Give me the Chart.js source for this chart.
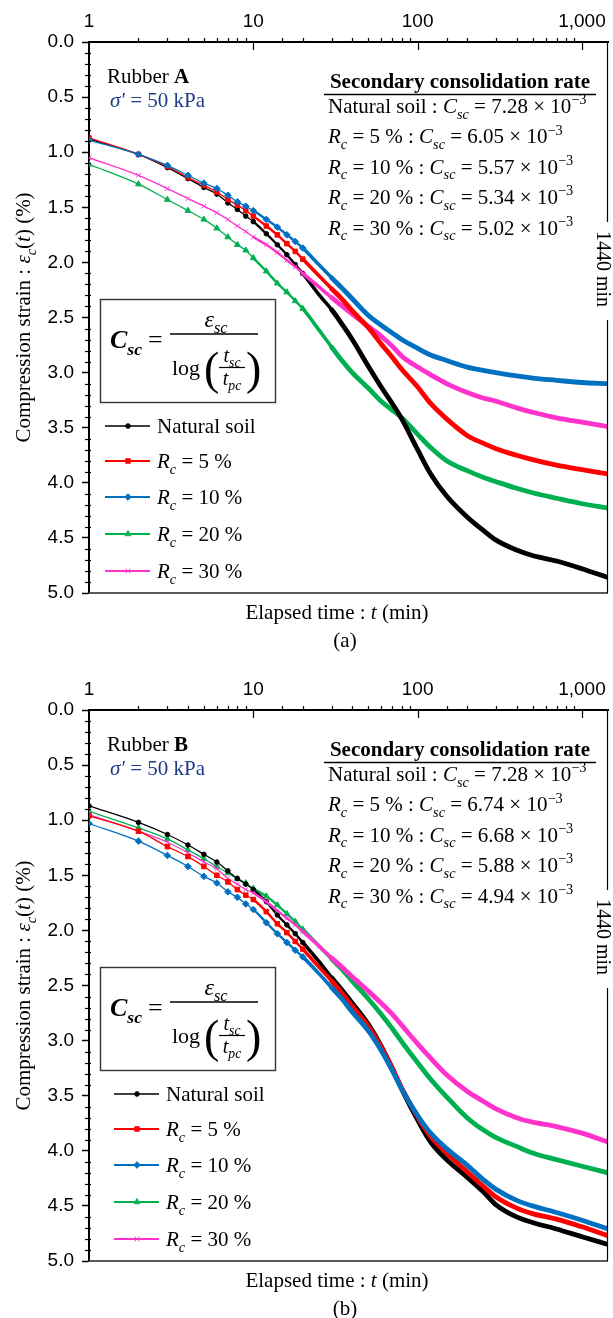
<!DOCTYPE html>
<html>
<head>
<meta charset="utf-8">
<script src="https://cdn.jsdelivr.net/npm/chart.js@4.4.1/dist/chart.umd.min.js"></script>
<style>
  body { margin: 0; background: #fff; width: 613px; height: 1318px; position: relative; overflow: hidden; }
  canvas { position: absolute; left: 0; }
</style>
</head>
<body>
<canvas id="chartA" width="613" height="659" style="top:0"></canvas>
<canvas id="chartB" width="613" height="650" style="top:668px"></canvas>
<script>
// elapsed time (min), shared by every series
const times = [1, 2, 3, 4, 5, 6, 7, 8, 9, 10, 12, 14, 16, 18, 20, 25, 30, 35, 40, 50, 60, 70, 80, 100, 120, 150, 200, 250, 300, 400, 500, 700, 1000, 1440];

// Rubber A, compression strain (%)
const natA = [0.88, 1.02, 1.14, 1.24, 1.32, 1.38, 1.46, 1.52, 1.58, 1.63, 1.74, 1.84, 1.93, 2.02, 2.10, 2.29, 2.43, 2.57, 2.70, 2.94, 3.13, 3.28, 3.42, 3.70, 3.92, 4.12, 4.31, 4.43, 4.52, 4.61, 4.66, 4.71, 4.78, 4.86];
const rc5A = [0.87, 1.02, 1.13, 1.23, 1.30, 1.36, 1.43, 1.48, 1.53, 1.58, 1.67, 1.75, 1.83, 1.90, 1.97, 2.12, 2.24, 2.34, 2.44, 2.59, 2.74, 2.86, 2.97, 3.13, 3.28, 3.42, 3.57, 3.64, 3.69, 3.75, 3.79, 3.84, 3.88, 3.92];
const rc10A = [0.89, 1.02, 1.12, 1.21, 1.28, 1.33, 1.39, 1.45, 1.49, 1.53, 1.61, 1.68, 1.75, 1.81, 1.87, 2.02, 2.14, 2.24, 2.33, 2.48, 2.57, 2.64, 2.70, 2.78, 2.84, 2.89, 2.95, 2.98, 3.00, 3.03, 3.05, 3.07, 3.09, 3.10];
const rc20A = [1.11, 1.29, 1.43, 1.53, 1.61, 1.69, 1.77, 1.84, 1.89, 1.96, 2.08, 2.19, 2.27, 2.35, 2.42, 2.61, 2.77, 2.90, 3.00, 3.14, 3.26, 3.34, 3.41, 3.56, 3.68, 3.80, 3.89, 3.95, 3.99, 4.05, 4.09, 4.14, 4.19, 4.23];
const rc30A = [1.05, 1.21, 1.33, 1.42, 1.49, 1.55, 1.61, 1.67, 1.72, 1.77, 1.84, 1.91, 1.98, 2.04, 2.10, 2.22, 2.32, 2.40, 2.47, 2.58, 2.67, 2.76, 2.85, 2.95, 3.02, 3.10, 3.18, 3.23, 3.26, 3.32, 3.36, 3.41, 3.45, 3.49];

// Rubber B, compression strain (%)
const natB = [0.87, 1.02, 1.13, 1.225, 1.31, 1.38, 1.46, 1.53, 1.58, 1.63, 1.74, 1.86, 1.95, 2.03, 2.11, 2.28, 2.43, 2.55, 2.66, 2.85, 3.05, 3.25, 3.44, 3.72, 3.92, 4.08, 4.24, 4.37, 4.49, 4.60, 4.65, 4.71, 4.78, 4.85];
const rc5B = [0.96, 1.10, 1.24, 1.33, 1.42, 1.50, 1.56, 1.63, 1.68, 1.72, 1.83, 1.94, 2.02, 2.10, 2.17, 2.33, 2.46, 2.58, 2.69, 2.87, 3.06, 3.25, 3.43, 3.69, 3.87, 4.02, 4.19, 4.32, 4.42, 4.52, 4.57, 4.62, 4.69, 4.77];
const rc10B = [1.03, 1.19, 1.32, 1.42, 1.51, 1.57, 1.65, 1.70, 1.76, 1.81, 1.93, 2.03, 2.11, 2.18, 2.24, 2.39, 2.52, 2.63, 2.74, 2.91, 3.09, 3.27, 3.44, 3.68, 3.84, 3.98, 4.13, 4.26, 4.35, 4.45, 4.50, 4.56, 4.63, 4.71];
const rc20B = [0.92, 1.07, 1.17, 1.27, 1.35, 1.42, 1.48, 1.53, 1.57, 1.62, 1.69, 1.77, 1.85, 1.92, 1.99, 2.14, 2.26, 2.36, 2.46, 2.62, 2.76, 2.89, 3.01, 3.20, 3.35, 3.51, 3.70, 3.81, 3.88, 3.96, 4.02, 4.08, 4.14, 4.20];
const rc30B = [0.95, 1.10, 1.20, 1.295, 1.38, 1.44, 1.53, 1.58, 1.63, 1.66, 1.74, 1.82, 1.89, 1.95, 2.01, 2.14, 2.25, 2.34, 2.42, 2.55, 2.66, 2.76, 2.86, 3.03, 3.16, 3.31, 3.46, 3.55, 3.62, 3.70, 3.74, 3.78, 3.84, 3.92];

// rubber content labels and secondary consolidation rates (x 10^-3)
const rcLevels = [5, 10, 20, 30];
const cscA = ['7.28', '6.05', '5.57', '5.34', '5.02'];
const cscB = ['7.28', '6.74', '6.68', '5.88', '4.94'];

const SERIF = '"Liberation Serif", "Times New Roman", serif';
const SANS = '"Liberation Sans", Arial, sans-serif';

const seriesStyle = [
  { color: '#000000', point: 'circle', r: 2.3, order: 3 },
  { color: '#FF0000', point: 'rect', r: 3.2, order: 1 },
  { color: '#0070C0', point: 'rectRot', r: 3.3, order: 0 },
  { color: '#00B050', point: 'triangle', r: 3.4, order: 4 },
  { color: '#FF33CC', point: 'crossRot', r: 3.4, order: 2 }
];

// draw a run of text pieces: [text, flags] with i=italic b=bold s=sub p=sup
function drawRich(ctx, x, y, parts, size, align) {
  let total = 0;
  const pieces = parts.map(([t, f = '']) => {
    const small = f.includes('s') || f.includes('p');
    const fs = small ? size * 0.68 : size;
    const font = (f.includes('i') ? 'italic ' : '') + (f.includes('b') ? 'bold ' : '') + fs + 'px ' + SERIF;
    ctx.font = font;
    const w = ctx.measureText(t).width;
    total += w;
    return { t, font, w, dy: f.includes('s') ? size * 0.27 : f.includes('p') ? -size * 0.42 : 0 };
  });
  let cx = align === 'center' ? x - total / 2 : align === 'right' ? x - total : x;
  ctx.textAlign = 'left';
  ctx.textBaseline = 'alphabetic';
  pieces.forEach(p => { ctx.font = p.font; ctx.fillText(p.t, cx, y + p.dy); cx += p.w; });
  return total;
}

function drawMarker(ctx, style, x, y, r, color) {
  ctx.save();
  ctx.fillStyle = color;
  ctx.strokeStyle = color;
  ctx.lineWidth = 1;
  if (Chart.helpers && Chart.helpers.drawPoint) {
    Chart.helpers.drawPoint(ctx, { pointStyle: style, radius: r, rotation: 0, borderWidth: 1 }, x, y);
  } else {
    ctx.beginPath();
    ctx.arc(x, y, r, 0, Math.PI * 2);
    ctx.fill();
  }
  ctx.restore();
}

const segWidth = x => x <= 10 ? 1.3 : x <= 20 ? 2.4 : x <= 30 ? 3.6 : 4.8;

function legendParts(i) {
  if (i === 0) return [['Natural soil']];
  return [['R', 'i'], ['c', 'is'], [' = ' + rcLevels[i - 1] + ' %']];
}

function rateParts(i, csc) {
  const head = i === 0 ? [['Natural soil : ']] : [['R', 'i'], ['c', 'is'], [' = ' + rcLevels[i - 1] + ' % : ']];
  return head.concat([['C', 'i'], ['sc', 'is'], [' = ' + csc[i] + ' \u00d7 10'], ['\u22123', 'p']]);
}

function decorPlugin(p) {
  return {
    id: 'decor',
    afterDraw(chart) {
      const ctx = chart.ctx, a = chart.chartArea, xs = chart.scales.x, ys = chart.scales.y;
      ctx.save();
      ctx.strokeStyle = '#000';
      ctx.lineWidth = 1.2;
      // log ticks on the top axis: decades point in, the rest point out
      xs.ticks.forEach(t => {
        const v = t.value;
        if (v <= 1 || v >= 1440) return;
        const px = Math.round(xs.getPixelForValue(v)) + 0.5;
        const l = Math.log10(v);
        ctx.beginPath();
        if (Math.abs(l - Math.round(l)) < 1e-9) { ctx.moveTo(px, a.top); ctx.lineTo(px, a.top + 8); }
        else { ctx.moveTo(px, a.top - 4); ctx.lineTo(px, a.top); }
        ctx.stroke();
      });
      // minor ticks on the strain axis
      for (let k = 1; k < 50; k++) {
        if (k % 5 === 0) continue;
        const py = Math.round(ys.getPixelForValue(k / 10)) + 0.5;
        ctx.beginPath(); ctx.moveTo(a.left - 4, py); ctx.lineTo(a.left + 2, py); ctx.stroke();
      }
      // bottom and right frame
      ctx.strokeStyle = '#595959';
      ctx.lineWidth = 2;
      ctx.beginPath(); ctx.moveTo(a.left, a.bottom); ctx.lineTo(a.right, a.bottom); ctx.stroke();
      ctx.strokeStyle = '#000';
      ctx.lineWidth = 1.2;
      ctx.beginPath();
      ctx.moveTo(a.right - 0.5, a.top); ctx.lineTo(a.right - 0.5, 222);
      ctx.moveTo(a.right - 0.5, 320); ctx.lineTo(a.right - 0.5, a.bottom);
      ctx.stroke();

      ctx.fillStyle = '#000';
      // 1440 min
      ctx.save();
      ctx.translate(597, 269);
      ctx.rotate(Math.PI / 2);
      drawRich(ctx, 0, 0, [['1440 min']], 20, 'center');
      ctx.restore();

      // axis titles
      ctx.save();
      ctx.translate(30, (a.top + a.bottom) / 2);
      ctx.rotate(-Math.PI / 2);
      drawRich(ctx, 0, 0, [['Compression strain : '], ['\u03b5', 'i'], ['c', 'is'], ['('], ['t', 'i'], [') (%)']], 21, 'center');
      ctx.restore();
      drawRich(ctx, 337, 619, [['Elapsed time : '], ['t', 'i'], [' (min)']], 21, 'center');
      drawRich(ctx, 345, 647, [[p.caption]], 21, 'center');

      // sample info
      drawRich(ctx, 107, 83, [['Rubber '], [p.rubber, 'b']], 21, 'left');
      ctx.fillStyle = '#1F3C88';
      drawRich(ctx, 110, 107, [['\u03c3\u2032', 'i'], [' = 50 kPa']], 21, 'left');
      ctx.fillStyle = '#000';

      // secondary consolidation rate table
      drawRich(ctx, 460, 88, [['Secondary consolidation rate', 'b']], 21, 'center');
      ctx.lineWidth = 1.3;
      ctx.beginPath(); ctx.moveTo(324, 94.5); ctx.lineTo(596, 94.5); ctx.stroke();
      for (let i = 0; i < 5; i++) drawRich(ctx, 328, 113 + i * 30.4, rateParts(i, p.csc), 21, 'left');

      // equation box
      ctx.strokeStyle = '#333';
      ctx.lineWidth = 1.4;
      ctx.strokeRect(100.5, 299.5, 175, 103);
      ctx.strokeStyle = '#000';
      drawRich(ctx, 110, 348, [['C', 'bi'], ['sc', 'bis']], 26, 'left');
      drawRich(ctx, 148, 348, [['=']], 26, 'left');
      ctx.lineWidth = 1.6;
      ctx.beginPath(); ctx.moveTo(170, 334); ctx.lineTo(258, 334); ctx.stroke();
      drawRich(ctx, 216, 327, [['\u03b5', 'i'], ['sc', 'is']], 24, 'center');
      drawRich(ctx, 172, 375, [['log']], 22, 'left');
      drawRich(ctx, 204, 384, [['(']], 46, 'left');
      drawRich(ctx, 246, 384, [[')']], 46, 'left');
      drawRich(ctx, 232, 362, [['t', 'i'], ['sc', 'is']], 20, 'center');
      ctx.lineWidth = 1.2;
      ctx.beginPath(); ctx.moveTo(219, 367.5); ctx.lineTo(245, 367.5); ctx.stroke();
      drawRich(ctx, 232, 385, [['t', 'i'], ['pc', 'is']], 20, 'center');

      // legend
      const rows = [426, 461, 497, 534, 571];
      chart.data.datasets.forEach((ds, i) => {
        const s = seriesStyle[i], y = rows[i];
        ctx.strokeStyle = s.color;
        ctx.lineWidth = i === 0 ? 1.3 : 1.8;
        ctx.beginPath(); ctx.moveTo(p.legendX, y); ctx.lineTo(p.legendX + 45, y); ctx.stroke();
        drawMarker(ctx, s.point, p.legendX + 23, y, s.r, s.color);
        ctx.fillStyle = '#000';
        drawRich(ctx, p.legendX + 52, y + 7, legendParts(i), 21, 'left');
      });
      ctx.restore();
    }
  };
}

function makeChart(p) {
  const labels = ['Natural soil'].concat(rcLevels.map(r => 'Rc = ' + r + ' %'));
  const datasets = p.series.map((vals, i) => {
    const s = seriesStyle[i];
    return {
      label: labels[i],
      data: times.map((t, j) => ({ x: t, y: vals[j] })),
      borderColor: s.color,
      backgroundColor: s.color,
      borderWidth: 1.3,
      borderCapStyle: 'round',
      borderJoinStyle: 'round',
      cubicInterpolationMode: 'monotone',
      pointStyle: s.point,
      pointRadius: c => (c.parsed && c.parsed.x <= 20 ? s.r : 0),
      pointBorderWidth: 1,
      order: s.order,
      segment: { borderWidth: c => segWidth(c.p1.parsed.x) }
    };
  });
  return new Chart(document.getElementById(p.id), {
    type: 'line',
    data: { datasets },
    options: {
      responsive: false,
      animation: false,
      devicePixelRatio: 1,
      layout: { padding: { left: 0, right: 5, top: 0, bottom: p.bottomPad } },
      plugins: { legend: { display: false }, tooltip: { enabled: false } },
      scales: {
        x: {
          type: 'logarithmic', position: 'top', min: 1, max: 1440,
          afterFit: s => { s.height = 42; },
          grid: { display: false, drawTicks: true, tickLength: 5 },
          border: { display: true, color: '#000', width: 2 },
          ticks: {
            autoSkip: false, maxRotation: 0, padding: 4, color: '#000',
            font: { family: SANS, size: 19 },
            callback: v => {
              const l = Math.log10(v);
              return Math.abs(l - Math.round(l)) < 1e-9 ? Number(v).toLocaleString('en-US') : '';
            }
          }
        },
        y: {
          min: 0, max: 5, reverse: true,
          afterFit: s => { s.width = 89; },
          grid: { drawOnChartArea: false, tickLength: 7, tickColor: '#000', tickWidth: 1.5 },
          border: { color: '#000', width: 2 },
          ticks: { stepSize: 0.5, padding: 8, color: '#000', font: { family: SANS, size: 19 }, callback: v => Number(v).toFixed(1) }
        }
      }
    },
    plugins: [decorPlugin(p)]
  });
}

makeChart({ id: 'chartA', rubber: 'A', caption: '(a)', csc: cscA, legendX: 105, bottomPad: 66, series: [natA, rc5A, rc10A, rc20A, rc30A] });
makeChart({ id: 'chartB', rubber: 'B', caption: '(b)', csc: cscB, legendX: 114, bottomPad: 57, series: [natB, rc5B, rc10B, rc20B, rc30B] });
</script>
</body>
</html>
